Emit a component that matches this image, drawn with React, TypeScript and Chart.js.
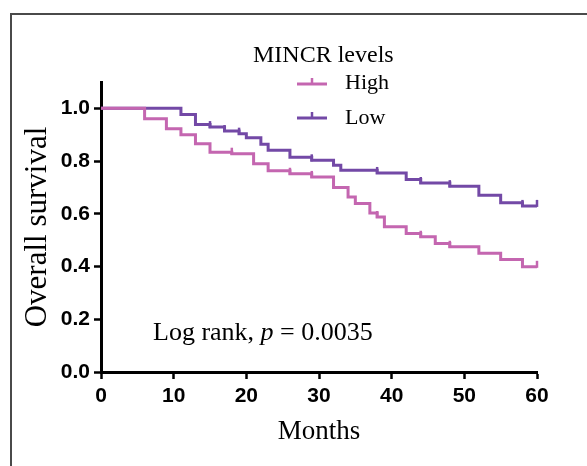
import React, { useEffect, useRef } from 'react';
import { Chart, registerables } from 'chart.js';

Chart.register(...registerables);

// ---- data ----
const xTicks = [0, 10, 20, 30, 40, 50, 60];
const yTicks = [0, 0.2, 0.4, 0.6, 0.8, 1.0];

const seriesNames = ['High', 'Low'];
const legendTitle = 'MINCR levels';

const highTimes = [0, 6, 9, 11, 13, 15, 18, 21, 23, 26, 29, 32, 34, 35, 37, 38, 39, 42, 44, 46, 48, 52, 55, 58, 60];
const highSurv = [1.0, 0.961, 0.923, 0.9, 0.866, 0.834, 0.828, 0.79, 0.763, 0.752, 0.74, 0.7, 0.664, 0.639, 0.603, 0.588, 0.551, 0.525, 0.513, 0.487, 0.475, 0.45, 0.427, 0.399, 0.399];
const highCensored = [18, 26, 29, 38, 44, 48, 60];

const lowTimes = [0, 11, 13, 15, 17, 19, 20, 22, 23, 26, 29, 32, 33, 38, 42, 44, 48, 52, 55, 58, 60];
const lowSurv = [1.0, 0.977, 0.939, 0.929, 0.914, 0.904, 0.889, 0.864, 0.841, 0.815, 0.803, 0.784, 0.765, 0.755, 0.73, 0.717, 0.705, 0.67, 0.642, 0.63, 0.63];
const lowCensored = [15, 17, 19, 29, 38, 44, 48, 58, 60];

const annotationPrefix = 'Log rank, ';
const annotationP = 'p';
const annotationSuffix = ' = 0.0035';

// ---- styles ----
const HIGH_COLOR = '#c466b0';
const LOW_COLOR = '#7349a6';
const SERIF = '"Liberation Serif", "Times New Roman", serif';
const SANS = '"Liberation Sans", Arial, sans-serif';

function survAt(times: number[], surv: number[], t: number) {
  let v = surv[0];
  for (let i = 0; i < times.length; i++) {
    if (times[i] <= t) v = surv[i];
  }
  return v;
}

const censorSets = [
  { times: highTimes, surv: highSurv, cens: highCensored, color: HIGH_COLOR },
  { times: lowTimes, surv: lowSurv, cens: lowCensored, color: LOW_COLOR },
];

const censorPlugin = {
  id: 'censorTicks',
  afterDatasetsDraw(chart: any) {
    const { ctx, scales } = chart;
    const xs = scales.x;
    const ys = scales.y;
    ctx.save();
    ctx.lineWidth = 2.5;
    ctx.lineCap = 'butt';
    censorSets.forEach((s) => {
      ctx.strokeStyle = s.color;
      s.cens.forEach((t) => {
        const x = xs.getPixelForValue(t);
        const y = ys.getPixelForValue(survAt(s.times, s.surv, t));
        ctx.beginPath();
        ctx.moveTo(x, y + 1);
        ctx.lineTo(x, y - 6);
        ctx.stroke();
      });
    });
    ctx.restore();
  },
};

const legendPlugin = {
  id: 'kmLegend',
  afterDraw(chart: any) {
    const { ctx } = chart;
    ctx.save();
    ctx.fillStyle = '#000';
    ctx.textBaseline = 'alphabetic';
    ctx.textAlign = 'left';
    ctx.font = `24px ${SERIF}`;
    ctx.fillText(legendTitle, 253, 62);

    const rows = [
      { name: seriesNames[0], color: HIGH_COLOR, base: 89, lineY: 84 },
      { name: seriesNames[1], color: LOW_COLOR, base: 124, lineY: 118 },
    ];
    rows.forEach((r) => {
      ctx.strokeStyle = r.color;
      ctx.lineWidth = 3;
      ctx.beginPath();
      ctx.moveTo(297, r.lineY);
      ctx.lineTo(327, r.lineY);
      ctx.stroke();
      ctx.lineWidth = 2.5;
      ctx.beginPath();
      ctx.moveTo(312, r.lineY);
      ctx.lineTo(312, r.lineY - 6);
      ctx.stroke();
      ctx.font = `22px ${SERIF}`;
      ctx.fillStyle = '#000';
      ctx.fillText(r.name, 345, r.base);
    });

    // log-rank annotation
    let x = 153;
    const by = 340;
    ctx.font = `26px ${SERIF}`;
    ctx.fillText(annotationPrefix, x, by);
    x += ctx.measureText(annotationPrefix).width;
    ctx.font = `italic 26px ${SERIF}`;
    ctx.fillText(annotationP, x, by);
    x += ctx.measureText(annotationP).width;
    ctx.font = `26px ${SERIF}`;
    ctx.fillText(annotationSuffix, x, by);
    ctx.restore();
  },
};

export default function App() {
  const canvasRef = useRef<HTMLCanvasElement | null>(null);

  useEffect(() => {
    const canvas = canvasRef.current;
    if (!canvas) return;
    const toPts = (t: number[], s: number[]) => t.map((v, i) => ({ x: v, y: s[i] }));

    const chart = new Chart(canvas, {
      type: 'line',
      data: {
        datasets: [
          {
            label: seriesNames[0],
            data: toPts(highTimes, highSurv),
            borderColor: HIGH_COLOR,
            borderWidth: 3,
            stepped: 'before',
            pointRadius: 0,
            fill: false,
          },
          {
            label: seriesNames[1],
            data: toPts(lowTimes, lowSurv),
            borderColor: LOW_COLOR,
            borderWidth: 3,
            stepped: 'before',
            pointRadius: 0,
            fill: false,
          },
        ],
      },
      options: {
        animation: false,
        responsive: false,
        maintainAspectRatio: false,
        devicePixelRatio: 1,
        layout: { padding: { top: 82, right: 50, left: 0, bottom: 0 } },
        plugins: {
          legend: { display: false },
          tooltip: { enabled: false },
        },
        scales: {
          x: {
            type: 'linear',
            min: xTicks[0],
            max: xTicks[xTicks.length - 1],
            afterBuildTicks: (s: any) => {
              s.ticks = xTicks.map((v) => ({ value: v }));
            },
            ticks: {
              color: '#000',
              font: { family: SANS, size: 21, weight: 'bold' },
              padding: 5,
              maxRotation: 0,
              autoSkip: false,
            },
            grid: {
              drawOnChartArea: false,
              drawTicks: true,
              tickLength: 7,
              tickWidth: 2.5,
              tickColor: '#000',
            },
            border: { display: true, width: 3, color: '#000' },
            title: {
              display: true,
              text: 'Months',
              color: '#000',
              font: { family: SERIF, size: 27, weight: 'normal' },
              padding: { top: 0, bottom: 18 },
            },
            afterFit: (s: any) => {
              s.height = 94;
            },
          },
          y: {
            type: 'linear',
            min: 0,
            max: 1.1,
            afterBuildTicks: (s: any) => {
              s.ticks = yTicks.map((v) => ({ value: v }));
            },
            ticks: {
              color: '#000',
              font: { family: SANS, size: 21, weight: 'bold' },
              padding: 4,
              autoSkip: false,
              callback: (v: any) => Number(v).toFixed(1),
            },
            grid: {
              drawOnChartArea: false,
              drawTicks: true,
              tickLength: 7,
              tickWidth: 2.5,
              tickColor: '#000',
            },
            border: { display: true, width: 3, color: '#000' },
            title: {
              display: true,
              text: 'Overall survival',
              color: '#000',
              font: { family: SERIF, size: 31, weight: 'normal' },
              padding: { top: 19, bottom: 0 },
            },
            afterFit: (s: any) => {
              s.width = 101;
            },
          },
        },
      },
      plugins: [censorPlugin, legendPlugin],
    } as any);

    return () => chart.destroy();
  }, []);

  return (
    <div style={{ position: 'fixed', left: 0, top: 0, width: 587, height: 466, overflow: 'hidden', background: '#fff' }}>
      <div
        style={{
          position: 'absolute',
          left: 10,
          top: 13,
          width: 620,
          height: 520,
          border: '2px solid #4a4a4a',
          boxSizing: 'border-box',
        }}
      />
      <canvas
        ref={canvasRef}
        width={587}
        height={466}
        style={{ position: 'absolute', left: 0, top: 0, width: 587, height: 466 }}
      />
    </div>
  );
}
